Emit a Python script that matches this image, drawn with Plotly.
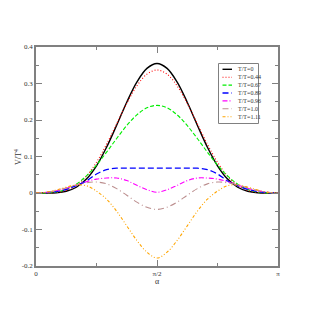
import numpy as np
import plotly.graph_objects as go

# alpha grid: k*pi/24, k = 0..24
alpha = [k * np.pi / 24 for k in range(25)]

labels = ["T/T=0", "T/T=0.44", "T/T=0.67", "T/T=0.89", "T/T=0.96", "T/T=1.0", "T/T=1.11"]

v_000 = [0, 0.00004, 0.0008, 0.0047, 0.0157, 0.0381, 0.0746, 0.1253, 0.1858, 0.2486, 0.3037, 0.3415, 0.355,
         0.3415, 0.3037, 0.2486, 0.1858, 0.1253, 0.0746, 0.0381, 0.0157, 0.0047, 0.0008, 0.00004, 0]
v_044 = [0, 0.0001, 0.0015, 0.0072, 0.0211, 0.0463, 0.0843, 0.1335, 0.1896, 0.2455, 0.2934, 0.3256, 0.337,
         0.3256, 0.2934, 0.2455, 0.1896, 0.1335, 0.0843, 0.0463, 0.0211, 0.0072, 0.0015, 0.0001, 0]
v_067 = [0, 0.0003, 0.0028, 0.0101, 0.0244, 0.0467, 0.0765, 0.1118, 0.1493, 0.1848, 0.2140, 0.2333, 0.240,
         0.2333, 0.2140, 0.1848, 0.1493, 0.1118, 0.0765, 0.0467, 0.0244, 0.0101, 0.0028, 0.0003, 0]
v_089 = [0, 0.001, 0.004, 0.010, 0.020, 0.033, 0.052, 0.064, 0.068, 0.068, 0.068, 0.068, 0.068,
         0.068, 0.068, 0.068, 0.068, 0.064, 0.052, 0.033, 0.020, 0.010, 0.004, 0.001, 0]
v_096 = [0, 0.002, 0.006, 0.013, 0.022, 0.031, 0.038, 0.041, 0.041, 0.034, 0.021, 0.009, 0.002,
         0.009, 0.021, 0.034, 0.041, 0.041, 0.038, 0.031, 0.022, 0.013, 0.006, 0.002, 0]
v_100 = [0, 0.002, 0.007, 0.014, 0.022, 0.028, 0.030, 0.025, 0.012, -0.006, -0.025, -0.039, -0.045,
         -0.039, -0.025, -0.006, 0.012, 0.025, 0.030, 0.028, 0.022, 0.014, 0.007, 0.002, 0]
v_111 = [0, 0.002, 0.008, 0.016, 0.022, 0.020, 0.005, -0.017, -0.050, -0.090, -0.130, -0.162, -0.178,
         -0.162, -0.130, -0.090, -0.050, -0.017, 0.005, 0.020, 0.022, 0.016, 0.008, 0.002, 0]

series = [v_000, v_044, v_067, v_089, v_096, v_100, v_111]
colors = ["#000000", "#ff0000", "#00ee00", "#0000ff", "#ff00ff", "#bc8f8f", "#ffa500"]
dashes = ["solid", "1px,2px", "4px,2px", "6px,3px", "5px,2px,1px,2px", "6px,3px,1px,3px", "3px,2px,1px,2px,1px,2px"]
widths = [1.4, 1.1, 1.1, 1.3, 1.1, 1.1, 1.1]

x_tickvals = [0, np.pi / 2, np.pi]
x_ticktext = ["0", "π/2", "π"]
y_tickvals = [-0.2, -0.1, 0, 0.1, 0.2, 0.3, 0.4]
y_ticktext = ["-0.2", "-0.1", "0", "0.1", "0.2", "0.3", "0.4"]

fig = go.Figure()
for lab, vals, c, d, w in zip(labels, series, colors, dashes, widths):
    fig.add_trace(go.Scatter(x=alpha, y=vals, mode="lines", name=lab, showlegend=False,
                             line=dict(color=c, dash=d, width=w, shape="spline", smoothing=1.0)))

# hand-built compact legend (paper coordinates)
W, H = 242.0, 219.0
def px2x(px):
    return (px - 36.0) / W
def py2y(py):
    return (266.0 - py) / H

shapes = [dict(type="rect", xref="paper", yref="paper",
               x0=px2x(218.5), x1=px2x(258.5), y0=py2y(123.5), y1=py2y(63.5),
               line=dict(color="#808080", width=1), fillcolor="white", layer="above")]
annotations = []
for i, (lab, c, d, w) in enumerate(zip(labels, colors, dashes, widths)):
    py = 69.3 + i * 7.9
    shapes.append(dict(type="line", xref="paper", yref="paper",
                       x0=px2x(222.5), x1=px2x(232), y0=py2y(py), y1=py2y(py),
                       line=dict(color=c, dash=d, width=w), layer="above"))
    annotations.append(dict(xref="paper", yref="paper", x=px2x(235.5), y=py2y(py),
                            xanchor="left", yanchor="middle", text=lab, showarrow=False,
                            font=dict(family="Liberation Serif", size=6, color="#333333")))

# axis titles as annotations for exact placement
annotations.append(dict(xref="paper", yref="paper", x=px2x(18), y=py2y(157),
                        xanchor="center", yanchor="middle", text="V/T<sup>4</sup>", textangle=-90,
                        showarrow=False, font=dict(family="Liberation Serif", size=8, color="#333333")))
annotations.append(dict(xref="paper", yref="paper", x=px2x(157), y=py2y(281),
                        xanchor="center", yanchor="middle", text="α",
                        showarrow=False, font=dict(family="Liberation Serif", size=8, color="#333333")))

axis_common = dict(showline=True, linecolor="#808080", linewidth=1.5, mirror="allticks",
                   ticks="inside", tickcolor="#808080", tickwidth=1, showgrid=False, zeroline=False,
                   automargin=False,
                   tickfont=dict(family="Liberation Serif", size=7, color="#333333"))

fig.update_layout(
    width=314, height=314,
    margin=dict(l=28, r=44, t=39, b=56),
    plot_bgcolor="white", paper_bgcolor="white",
    font=dict(family="Liberation Serif", size=7, color="#333333"),
    xaxis=dict(range=[0, np.pi], tickmode="array", tickvals=x_tickvals, ticktext=x_ticktext,
               ticklen=6,
               minor=dict(tickmode="array", tickvals=[np.pi / 4, 3 * np.pi / 4], ticks="inside",
                          ticklen=3, tickcolor="#808080"),
               **axis_common),
    yaxis=dict(range=[-0.2, 0.4], tickmode="array", tickvals=y_tickvals, ticktext=y_ticktext,
               ticklen=6,
               minor=dict(dtick=0.05, tick0=0, ticks="inside", ticklen=3, tickcolor="#808080"),
               **axis_common),
    shapes=shapes,
    annotations=annotations,
    showlegend=False,
)

fig.write_html("out.html")
